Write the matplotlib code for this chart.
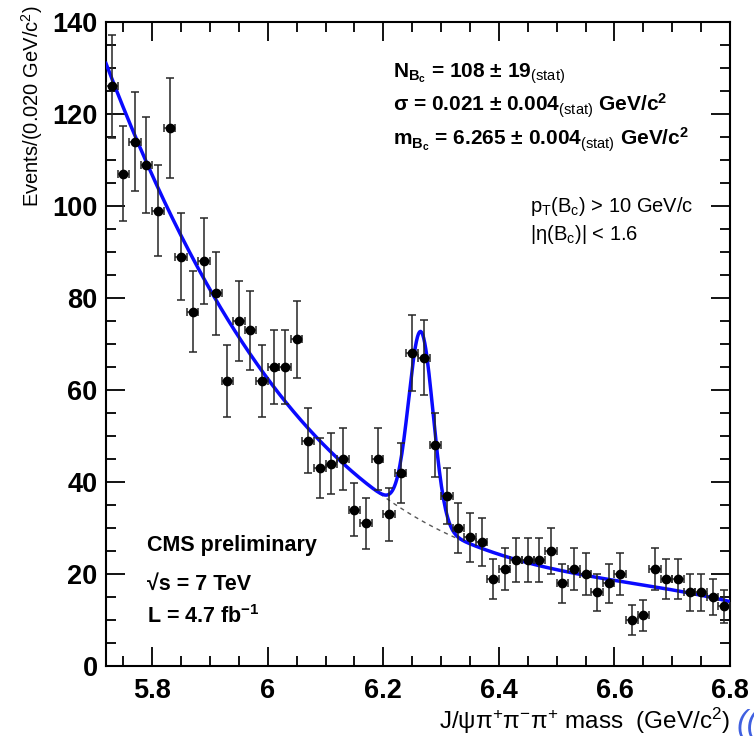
import numpy as np
import matplotlib
matplotlib.use("Agg")
import matplotlib.pyplot as plt
from matplotlib.ticker import MultipleLocator

plt.rcParams['font.family'] = ['Liberation Sans', 'DejaVu Sans']
plt.rcParams['mathtext.fontset'] = 'custom'
plt.rcParams['mathtext.rm'] = 'Liberation Sans'
plt.rcParams['mathtext.it'] = 'Liberation Sans:italic'
plt.rcParams['mathtext.bf'] = 'Liberation Sans:bold'

# histogram: 0.020 GeV bins starting at 5.72
bin_lo = 5.72
bin_width = 0.02
counts = [126, 107, 114, 109, 99, 117, 89, 77, 88, 81,
          62, 75, 73, 62, 65, 65, 71, 49, 43, 44,
          45, 34, 31, 45, 33, 42, 68, 67, 48, 37,
          30, 28, 27, 19, 21, 23, 23, 23, 25, 18,
          21, 20, 16, 18, 20, 10, 11, 21, 19, 19,
          16, 16, 15, 13]

# fit result: gaussian signal + cubic background in (m - 5.72)
sig_yield = 108
sig_mass = 6.265
sig_width = 0.021
bkg_coef = [131.0, -330.0, 338.2, -123.1]

counts = np.array(counts, dtype=float)
centers = bin_lo + bin_width * (np.arange(len(counts)) + 0.5)
errors = np.sqrt(counts)

mgrid = np.linspace(bin_lo, bin_lo + bin_width * len(counts), 600)
bkg = np.polyval(bkg_coef[::-1], mgrid - bin_lo)
sig = sig_yield * bin_width / (sig_width * np.sqrt(2 * np.pi)) * \
    np.exp(-0.5 * ((mgrid - sig_mass) / sig_width) ** 2)

W, H = 754, 736
fig = plt.figure(figsize=(W / 100, H / 100), dpi=100)
ax = fig.add_axes([106 / W, 1 - 666 / H, (730 - 106) / W, (666 - 22) / H])

ax.plot(mgrid, bkg, color='0.35', lw=1.0, ls=(0, (3, 3)), zorder=2)
ax.plot(mgrid, bkg + sig, color='#0a0aff', lw=2.5, zorder=3)
ax.errorbar(centers, counts, yerr=errors, xerr=bin_width / 2, fmt='o',
            color='black', ecolor='0.15', elinewidth=1.1, capsize=3,
            capthick=1.1, markersize=6, zorder=4)

ax.set_xlim(bin_lo, bin_lo + bin_width * len(counts))
ax.set_ylim(0, 140)
ax.xaxis.set_major_locator(MultipleLocator(0.2))
ax.xaxis.set_minor_locator(MultipleLocator(0.05))
ax.yaxis.set_major_locator(MultipleLocator(20))
ax.yaxis.set_minor_locator(MultipleLocator(5))
ax.xaxis.set_major_formatter(matplotlib.ticker.FuncFormatter(lambda v, p: f"{v:g}"))
ax.tick_params(which='both', direction='in', top=True, right=True, width=1.3)
ax.tick_params(which='major', length=14, labelsize=19.5, pad=6)
ax.tick_params(axis='x', which='major', pad=9)
ax.tick_params(which='minor', length=7)
for lab in ax.get_xticklabels() + ax.get_yticklabels():
    lab.set_fontweight('bold')
for s in ax.spines.values():
    s.set_linewidth(1.5)

fig.text(32 / W, 1 - 5 / H, "Events/(0.020 GeV/c$^{2}$)", rotation=90,
         ha='center', va='top', fontsize=14.5)
fig.text(730 / W, 1 - 721 / H,
         "J/ψπ$^{+}$π$^{-}$π$^{+}$ mass  (GeV/c$^{2}$)",
         ha='right', va='center', fontsize=17.5)
# fragment of a neighbouring label cut by the image edge
fig.text(736 / W, 1 - 724 / H, "((", color='#4060e0', fontsize=23,
         style='italic', ha='left', va='center')

fig.text(393 / W, 1 - 74 / H,
         r"N$_{\mathbf{B_c}}$ = 108 ± 19$_{\mathrm{(stat)}}$",
         fontsize=15, fontweight='bold', va='center')
fig.text(393 / W, 1 - 106 / H,
         r"σ = 0.021 ± 0.004$_{\mathrm{(stat)}}$ GeV/c$^{\mathbf{2}}$",
         fontsize=15, fontweight='bold', va='center')
fig.text(393 / W, 1 - 140 / H,
         r"m$_{\mathbf{B_c}}$ = 6.265 ± 0.004$_{\mathrm{(stat)}}$ GeV/c$^{\mathbf{2}}$",
         fontsize=15, fontweight='bold', va='center')
fig.text(530 / W, 1 - 206 / H, r"p$_{\mathrm{T}}$(B$_{\mathrm{c}}$) > 10 GeV/c",
         fontsize=14.5, va='center')
fig.text(530 / W, 1 - 234 / H, r"|η(B$_{\mathrm{c}}$)| < 1.6",
         fontsize=14.5, va='center')

fig.text(147 / W, 1 - 546 / H, "CMS preliminary", fontsize=15.5,
         fontweight='bold', va='center')
fig.text(147 / W, 1 - 584 / H, "√s = 7 TeV", fontsize=15.5,
         fontweight='bold', va='center')
fig.text(147 / W, 1 - 617 / H, r"L = 4.7 fb$^{\mathbf{-1}}$", fontsize=15.5,
         fontweight='bold', va='center')

fig.savefig("out.png", dpi=100)
